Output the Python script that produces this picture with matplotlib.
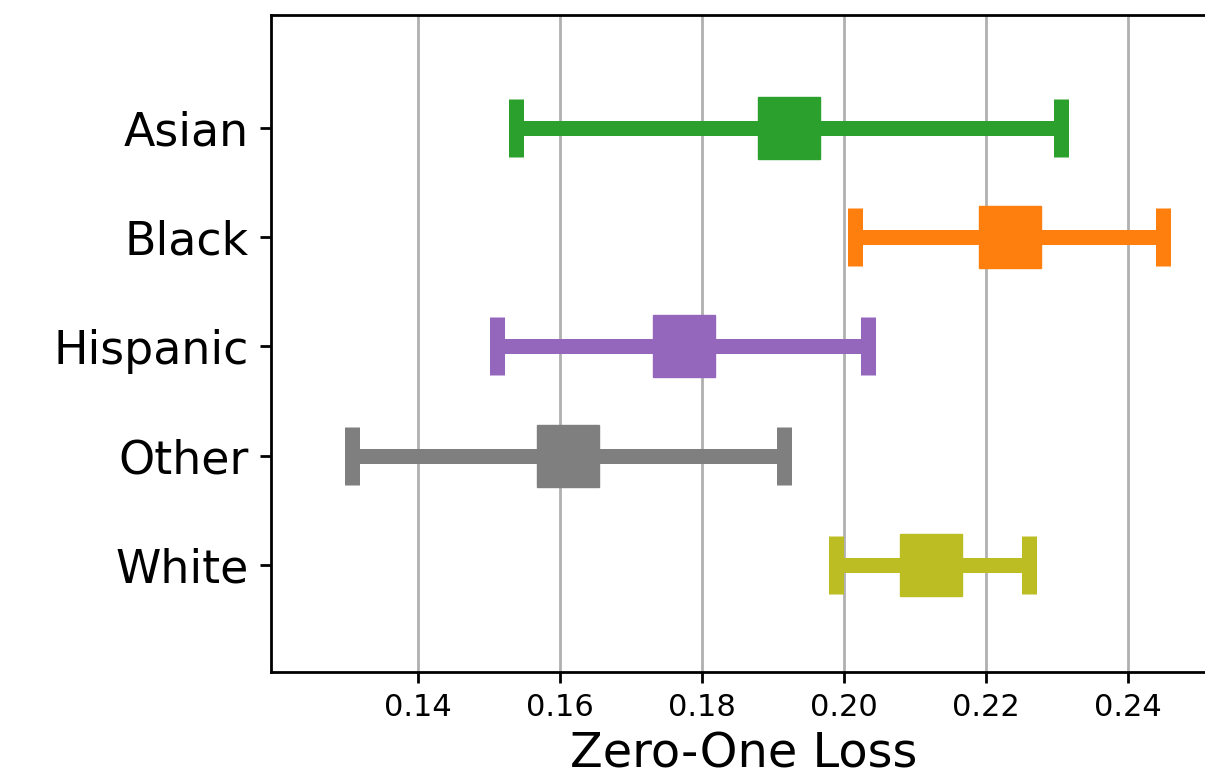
import numpy as np
import matplotlib
matplotlib.use("Agg")
import matplotlib.pyplot as plt

groups = ["Asian", "Black", "Hispanic", "Other", "White"]
centers = [0.1922, 0.2234, 0.1774, 0.1611, 0.2123]
lower = [0.1538, 0.2016, 0.1511, 0.1307, 0.1989]
upper = [0.2306, 0.2449, 0.2034, 0.1915, 0.2260]
colors = ["tab:green", "tab:orange", "tab:purple", "tab:gray", "tab:olive"]
xticks = [0.14, 0.16, 0.18, 0.20, 0.22, 0.24]

fig = plt.figure(figsize=(12.05, 7.83), dpi=100)
ax = fig.add_axes([271/1205, 1-672/783, 945/1205, 657/783])

for i, g in enumerate(groups):
    c = centers[i]
    ax.errorbar(c, i, xerr=[[c-lower[i]], [upper[i]-c]], fmt='s', ms=44,
                color=colors[i], elinewidth=10.8, capsize=21, capthick=10.8, zorder=3)

ax.set_yticks(range(len(groups)))
ax.set_yticklabels(groups, fontsize=33)
ax.set_ylim(4.98, -1.03)
ax.set_xlim(0.1193, 0.2524)
ax.set_xticks(xticks)
ax.set_xticklabels(["%.2f" % v for v in xticks], fontsize=22)
ax.set_xlabel("Zero-One Loss", fontsize=34.5, labelpad=6)
ax.grid(axis='x', color='#b0b0b0', linewidth=2, zorder=0)
ax.set_axisbelow(True)
for s in ax.spines.values():
    s.set_linewidth(2)
ax.tick_params(axis='y', length=8, width=2, pad=8)
ax.tick_params(axis='x', length=8, width=2, pad=7)

plt.savefig("out.png", dpi=100)
